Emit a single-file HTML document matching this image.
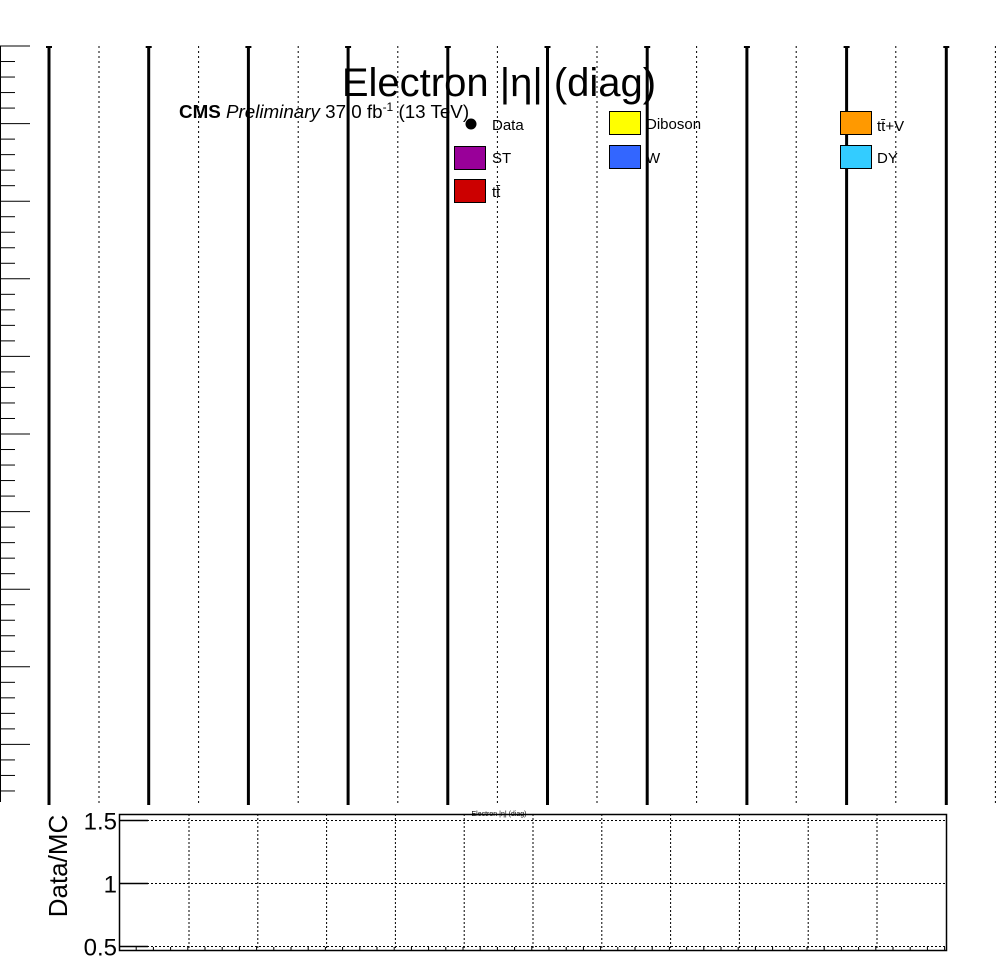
<!DOCTYPE html>
<html><head><meta charset="utf-8"><style>
html,body{margin:0;padding:0;background:#fff}
svg{display:block;font-family:"Liberation Sans",sans-serif}
</style></head><body>
<svg id="c" width="996" height="972" viewBox="0 0 996 972">
<g id="topPad"></g>
<g id="botPad"></g>
<text x="499" y="96" font-size="40" text-anchor="middle">Electron |η| (diag)</text>
<text x="179" y="118" font-size="18.8"><tspan font-weight="bold">CMS</tspan> <tspan font-style="italic">Preliminary</tspan> 37.0 fb<tspan dy="-7" font-size="12">-1</tspan><tspan dy="7"> (13 TeV)</tspan></text>
<g font-size="15">
 <g><circle cx="471" cy="124" r="5.5" fill="#000"/><text x="492" y="130">Data</text></g>
 <g><rect x="454.5" y="146.5" width="31" height="23" fill="#990099" stroke="#000"/><text x="492" y="163">ST</text></g>
 <g><rect x="454.5" y="179.5" width="31" height="23" fill="#cc0000" stroke="#000"/><text x="492" y="197">tt̄</text></g>
 <g><rect x="609.5" y="111.5" width="31" height="23" fill="#ffff00" stroke="#000"/><text x="646" y="129">Diboson</text></g>
 <g><rect x="609.5" y="145.5" width="31" height="23" fill="#3366ff" stroke="#000"/><text x="646" y="163">W</text></g>
 <g><rect x="840.5" y="111.5" width="31" height="23" fill="#ff9900" stroke="#000"/><text x="877" y="131">tt̄+V</text></g>
 <g><rect x="840.5" y="145.5" width="31" height="23" fill="#33ccff" stroke="#000"/><text x="877" y="163">DY</text></g>
</g>
<text x="499" y="816" font-size="7" text-anchor="middle">Electron |η| (diag)</text>
<text transform="translate(67,866) rotate(-90)" font-size="26" text-anchor="middle">Data/MC</text>
</svg>
<script>
// Ratio axis ticks
const ratioTicks=[0.5,1,1.5];
const ratioTickLabels=["0.5","1","1.5"];
const ratioMin=0.5, ratioMax=1.5;
const NS="http://www.w3.org/2000/svg";
function mk(p,tag,a){const e=document.createElementNS(NS,tag);for(const k in a)e.setAttribute(k,a[k]);p.appendChild(e);return e;}
const topPad=document.getElementById('topPad'), botPad=document.getElementById('botPad');
for(let i=0;i<10;i++){
 const x=49+i*99.7;
 const l=mk(topPad,'line',{x1:x,y1:46,x2:x,y2:805,stroke:'#000','stroke-width':3});
 
 
 mk(topPad,'line',{x1:x-3,y1:47,x2:x+3,y2:47,stroke:'#000','stroke-width':2});
}
for(let i=0;i<10;i++){
 const x=99+i*99.6;
 const l=mk(topPad,'line',{x1:x,y1:46,x2:x,y2:805,stroke:'#000','stroke-width':1,'stroke-dasharray':'2,3'});
 
 
}
mk(topPad,'line',{x1:0.5,y1:46,x2:0.5,y2:802,stroke:'#000','stroke-width':1});
for(let j=0;j<=48;j++){
 const y=46+j*15.52;
 if(y>802)break;
 const major=j%5===0;
 const t=mk(topPad,'line',{x1:0,y1:y,x2:major?30:15,y2:y,stroke:'#000','stroke-width':1});
 
 
}
const X0=119,X1=946,Y0=814,Y1=951;
const ry=v=>946.5-(v-ratioMin)/(ratioMax-ratioMin)*126;
const fr=mk(botPad,'rect',{x:X0+0.5,y:Y0+0.5,width:X1-X0,height:Y1-Y0-1,fill:'none',stroke:'#000','stroke-width':1.5});


for(let i=0;i<11;i++){
 const x=189+i*68.8;
 const g=mk(botPad,'line',{x1:x,y1:Y0,x2:x,y2:Y1,stroke:'#000','stroke-width':1,'stroke-dasharray':'2,2'});
 
 
}
for(let x=X0+17.2;x<X1;x+=17.2){mk(botPad,'line',{x1:x,y1:Y1,x2:x,y2:Y1-4,stroke:'#000','stroke-width':1});}
ratioTicks.forEach((v,i)=>{
 const y=ry(v);
 const g=mk(botPad,'line',{x1:X0,y1:y,x2:X1,y2:y,stroke:'#000','stroke-width':1,'stroke-dasharray':'2,2'});
 
 
 mk(botPad,'line',{x1:X0,y1:y,x2:X0+29,y2:y,stroke:'#000','stroke-width':1.5});
 const t=mk(botPad,'text',{x:117,y:y+9,'font-size':24,'text-anchor':'end'});
 t.textContent=ratioTickLabels[i];
 
 
});
</script>
</body></html>
